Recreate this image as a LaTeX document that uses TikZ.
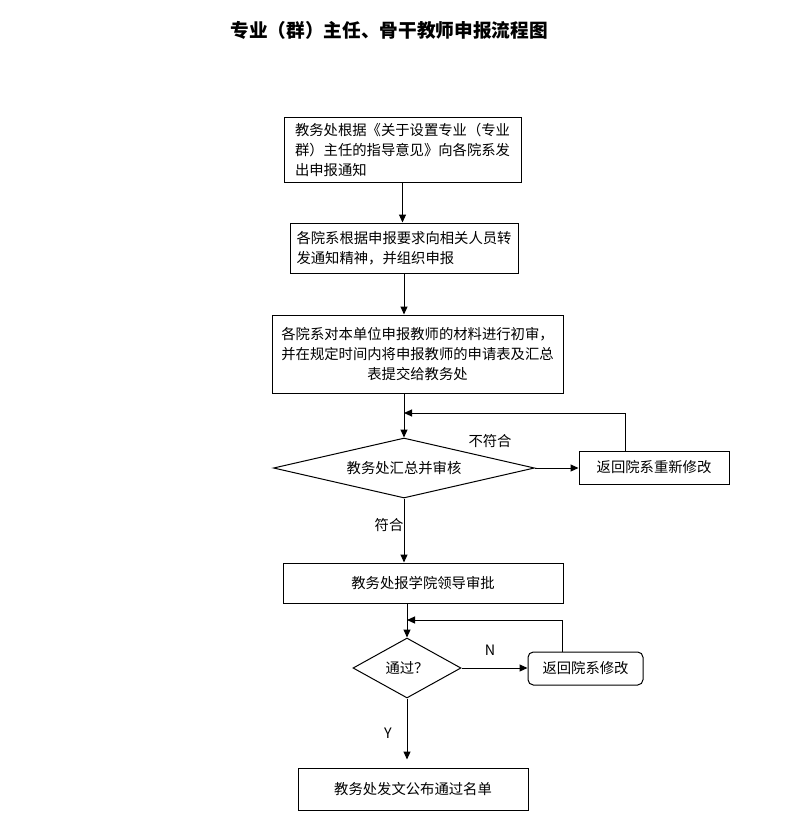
\documentclass[tikz,border=0pt]{standalone}
\usepackage{fontspec}
\setmainfont{Noto Sans CJK SC}
\usetikzlibrary{shapes.geometric,arrows.meta,calc}

\begin{document}
\begin{tikzpicture}[x=0.75pt,y=0.75pt,yscale=-1,xscale=1,
  font=\fontsize{10.75}{15}\selectfont,
  box/.style={draw,line width=0.75pt,inner sep=0pt},
  dia/.style={draw,diamond,line width=0.75pt,inner sep=0pt},
  arr/.style={line width=0.75pt,-{Triangle[length=6pt,width=5.25pt]}}]
\useasboundingbox (0,0) rectangle (786,836);
\node (title) at (389,30) [font=\fontsize{14}{16}\selectfont\bfseries] {专业（群）主任、骨干教师申报流程图};
% boxes
\node (b1) at (402.5,149.5) [box,minimum width=177.75pt,minimum height=48.75pt,align=left] {教务处根据《关于设置专业（专业\\群）主任的指导意见》向各院系发\\出申报通知};
\node (b2) at (404,248) [box,minimum width=171pt,minimum height=37.5pt,align=left] {各院系根据申报要求向相关人员转\\发通知精神，并组织申报};
\node (b3) at (417.5,354) [box,minimum width=218.25pt,minimum height=58.5pt,align=center] {各院系对本单位申报教师的材料进行初审，\\并在规定时间内将申报教师的申请表及汇总\\表提交给教务处};
\node (d1) at (404,468) [dia,aspect=4.35,minimum width=195.75pt,minimum height=45pt] {教务处汇总并审核};
\node (b4) at (654,467.5) [box,minimum width=112.5pt,minimum height=24.75pt] {返回院系重新修改};
\node (b5) at (423,583) [box,minimum width=210pt,minimum height=30pt] {教务处报学院领导审批};
\node (d2) at (407,668) [dia,aspect=1.8,minimum width=81pt,minimum height=45pt] {通过？};
\node (b6) at (585.5,668.5) [box,rounded corners=4pt,minimum width=86.25pt,minimum height=24.75pt] {返回院系修改};
\node (b7) at (413,789) [box,minimum width=172.5pt,minimum height=31.5pt] {教务处发文公布通过名单};
% labels
\node (l1) at (490,441) {不符合};
\node (l2) at (389,525) {符合};
\node (l3) at (490,650) {N};
\node (l4) at (388,733) {Y};
\coordinate (m1) at (404,413);
\coordinate (m2) at (407,620);
% connectors
\draw [arr] (b1.south) -- (b1.south |- b2.north);
\draw [arr] (b2.south) -- (b2.south |- b3.north);
\draw [arr] (d1.north |- b3.south) -- (d1.north);
\draw [arr] ($(b4.north west)+(47,0)$) |- (m1);
\draw [arr] (d1.east) -- (d1.east -| b4.west);
\draw [arr] (d1.south) -- (d1.south |- b5.north);
\draw [arr] (d2.north |- b5.south) -- (d2.north);
\draw [arr] ($(b6.north west)+(35,0)$) |- (m2);
\draw [arr] (d2.east) -- (d2.east -| b6.west);
\draw [arr,shorten >=6pt] (d2.south) -- (d2.south |- b7.north);
\end{tikzpicture}
\end{document}
